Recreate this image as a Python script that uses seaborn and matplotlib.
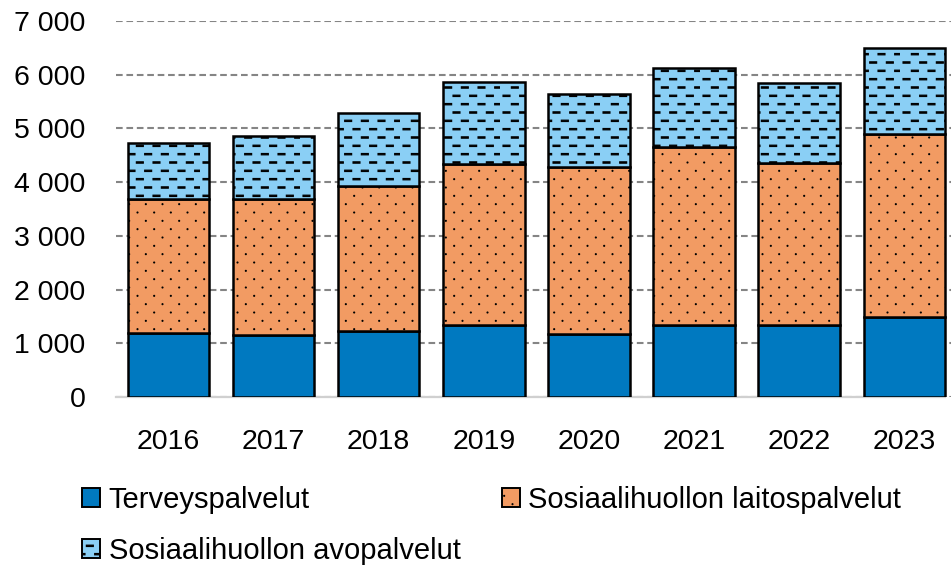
import numpy as np
import pandas as pd
import matplotlib
matplotlib.use('Agg')
import matplotlib.pyplot as plt
import matplotlib.hatch as mhatch
from matplotlib.path import Path
from matplotlib.patches import Patch
import seaborn as sns

# Données
vuodet = ['2016', '2017', '2018', '2019', '2020', '2021', '2022', '2023']
terveys = [1190, 1160, 1235, 1340, 1175, 1345, 1345, 1495]
laitos = [2500, 2535, 2700, 3000, 3115, 3315, 3005, 3405]
avo = [1040, 1165, 1360, 1525, 1360, 1465, 1490, 1595]
sarjat = ['Terveyspalvelut', 'Sosiaalihuollon laitospalvelut', 'Sosiaalihuollon avopalvelut']
y_ticks = [0, 1000, 2000, 3000, 4000, 5000, 6000, 7000]
y_labels = ['0', '1 000', '2 000', '3 000', '4 000', '5 000', '6 000', '7 000']

varit = ['#0079C0', '#F29B63', '#8ACFF5']


# Motifs de hachures façon Excel : tirets décalés et petits points
class DashRows(mhatch.HatchPatternBase):
    def __init__(self, hatch, density):
        on = '-' in hatch
        self.segs = [((c + 0.5 * (r % 2)) / 6 + 0.03, (r + 0.5) / 12)
                     for r in range(12) for c in range(6)] if on else []
        self.num_vertices = 5 * len(self.segs)

    def set_vertices_and_codes(self, vertices, codes):
        h = 0.007
        for i, (x, y) in enumerate(self.segs):
            vertices[5 * i:5 * i + 5] = [[x, y - h], [x + 0.07, y - h],
                                         [x + 0.07, y + h], [x, y + h], [x, y - h]]
            codes[5 * i:5 * i + 5] = [Path.MOVETO, Path.LINETO, Path.LINETO,
                                      Path.LINETO, Path.CLOSEPOLY]


class DotRows(mhatch.HatchPatternBase):
    def __init__(self, hatch, density):
        on = '.' in hatch
        circ = Path.unit_circle()
        self.sv = circ.vertices * 0.005
        self.sc = circ.codes
        self.pts = [((c + 0.25 + 0.5 * (r % 2)) / 6, (r + 0.5) / 12)
                    for r in range(12) for c in range(6)] if on else []
        self.num_vertices = len(self.pts) * len(self.sv)

    def set_vertices_and_codes(self, vertices, codes):
        n = len(self.sv)
        for i, (x, y) in enumerate(self.pts):
            vertices[i * n:(i + 1) * n] = self.sv + [x, y]
            codes[i * n:(i + 1) * n] = self.sc


mhatch._hatch_types = [DashRows, DotRows]

sns.set_style('white')
plt.rcParams['font.family'] = ['Liberation Sans', 'DejaVu Sans']
plt.rcParams['text.color'] = 'black'
plt.rcParams['xtick.color'] = 'black'
plt.rcParams['ytick.color'] = 'black'
plt.rcParams['hatch.linewidth'] = 0.8
plt.rcParams['hatch.color'] = 'black'

df = pd.DataFrame({'vuosi': vuodet, 'terveys': terveys, 'laitos': laitos, 'avo': avo})
df['pohja2'] = df['terveys'] + df['laitos']

fig = plt.figure(figsize=(9.51, 5.73), dpi=100)
ax = fig.add_axes([116 / 951, 1 - 397 / 573, 1 - 116 / 951, 376 / 573])

lev = 0.775
lw = 1.8
sns.barplot(data=df, x='vuosi', y='terveys', color=varit[0], edgecolor='black',
            linewidth=lw, width=lev, ax=ax, zorder=3)
sns.barplot(data=df, x='vuosi', y='laitos', bottom=df['terveys'], color=varit[1],
            edgecolor='black', linewidth=lw, width=lev, hatch='.', ax=ax, zorder=3)
sns.barplot(data=df, x='vuosi', y='avo', bottom=df['pohja2'], color=varit[2],
            edgecolor='black', linewidth=lw, width=lev, hatch='-', ax=ax, zorder=3)

# seaborn désature un peu les couleurs, on les remet
for i, bars in enumerate(ax.containers):
    for b in bars:
        b.set_facecolor(varit[i])

ax.set_ylim(0, 7000)
ax.set_xlim(-0.5, 7.445)
ax.set_yticks(y_ticks)
ax.set_yticklabels(y_labels)
ax.set_xlabel('')
ax.set_ylabel('')
ax.yaxis.grid(True, color='#858585', linestyle=(0, (3.2, 1.8)), linewidth=1.5, zorder=0)
ax.xaxis.grid(False)
ax.set_axisbelow(True)
for s in ['top', 'right', 'left']:
    ax.spines[s].set_visible(False)
ax.spines['bottom'].set_color('#d0d0d0')
ax.spines['bottom'].set_linewidth(1.6)
ax.spines['bottom'].set_bounds(-0.5, 7.39)
ax.tick_params(axis='both', length=0, labelsize=20.5)
ax.tick_params(axis='y', pad=22)
ax.tick_params(axis='x', pad=23)

kahvat = [Patch(facecolor=varit[0], edgecolor='black', linewidth=1.4, label=sarjat[0]),
          Patch(facecolor=varit[2], edgecolor='black', linewidth=1.4, hatch='-', label=sarjat[2]),
          Patch(facecolor=varit[1], edgecolor='black', linewidth=1.4, hatch='.', label=sarjat[1])]
fig.legend(handles=kahvat, ncol=2, loc='upper left', bbox_to_anchor=(82 / 951, 1 - 486 / 573),
           frameon=False, fontsize=21, handlelength=0.62, handleheight=0.62,
           handletextpad=0.3, columnspacing=1.4, labelspacing=0.78,
           borderpad=0, borderaxespad=0)

fig.savefig('out.png', dpi=100)
